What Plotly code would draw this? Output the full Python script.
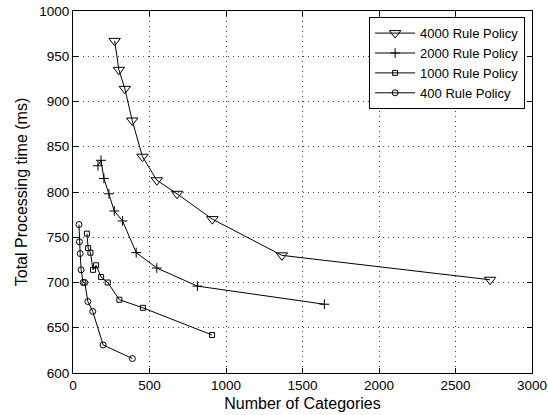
import plotly.graph_objects as go

# Data
x_4000 = [272, 300, 339, 387, 454, 548, 680, 911, 1365, 2726]
y_4000 = [967, 935, 914, 879, 839, 813, 798, 770, 730, 703]

x_2000 = [163, 183, 202, 235, 270, 324, 413, 548, 813, 1643]
y_2000 = [829, 835, 815, 798, 779, 768, 733, 716, 696, 676]

x_1000 = [91, 99, 114, 131, 151, 184, 227, 303, 457, 909]
y_1000 = [754, 738, 733, 714, 719, 706, 700, 681, 672, 642]

x_400 = [39, 42, 47, 53, 66, 77, 97, 129, 197, 388]
y_400 = [764, 745, 732, 714, 700, 700, 679, 668, 631, 616]

names = ["4000 Rule Policy", "2000 Rule Policy", "1000 Rule Policy", "400 Rule Policy"]

FONT = "Liberation Sans, Arial, Helvetica, sans-serif"

fig = go.Figure()
series = [
    (x_4000, y_4000, names[0], "triangle-down-open", 10),
    (x_2000, y_2000, names[1], "cross-thin-open", 7),
    (x_1000, y_1000, names[2], "square-open", 5),
    (x_400, y_400, names[3], "circle-open", 6),
]
for xs, ys, nm, sym, sz in series:
    fig.add_trace(go.Scatter(
        x=xs, y=ys, name=nm, mode="lines+markers",
        line=dict(color="black", width=1),
        marker=dict(symbol=sym, size=sz, color="black",
                    line=dict(color="black", width=1)),
    ))

axis_common = dict(
    showline=True, linecolor="black", linewidth=1.2, mirror="ticks",
    ticks="inside", ticklen=5, tickcolor="black",
    showgrid=True, gridcolor="#444444", griddash="1px,4px", gridwidth=1,
    zeroline=False, automargin=False,
    tickfont=dict(family=FONT, size=13.5, color="black"),
)

fig.update_xaxes(range=[0, 3000], dtick=500,
                 title=dict(text="Number of Categories", font=dict(family=FONT, size=16, color="black"), standoff=5),
                 **axis_common)
fig.update_yaxes(range=[600, 1000], dtick=50,
                 title=dict(text="Total Processing time (ms)", font=dict(family=FONT, size=16, color="black"), standoff=7),
                 **axis_common)

fig.update_layout(
    width=548, height=415,
    margin=dict(l=73, r=16, t=11, b=42),
    paper_bgcolor="white", plot_bgcolor="white",
    font=dict(family=FONT, size=13, color="black"),
    legend=dict(
        x=0.985, y=0.983, xanchor="right", yanchor="top",
        bgcolor="white", bordercolor="black", borderwidth=1,
        font=dict(family=FONT, size=13, color="black"),
        tracegroupgap=0, itemwidth=40,
    ),
)

fig.write_html("out.html")
